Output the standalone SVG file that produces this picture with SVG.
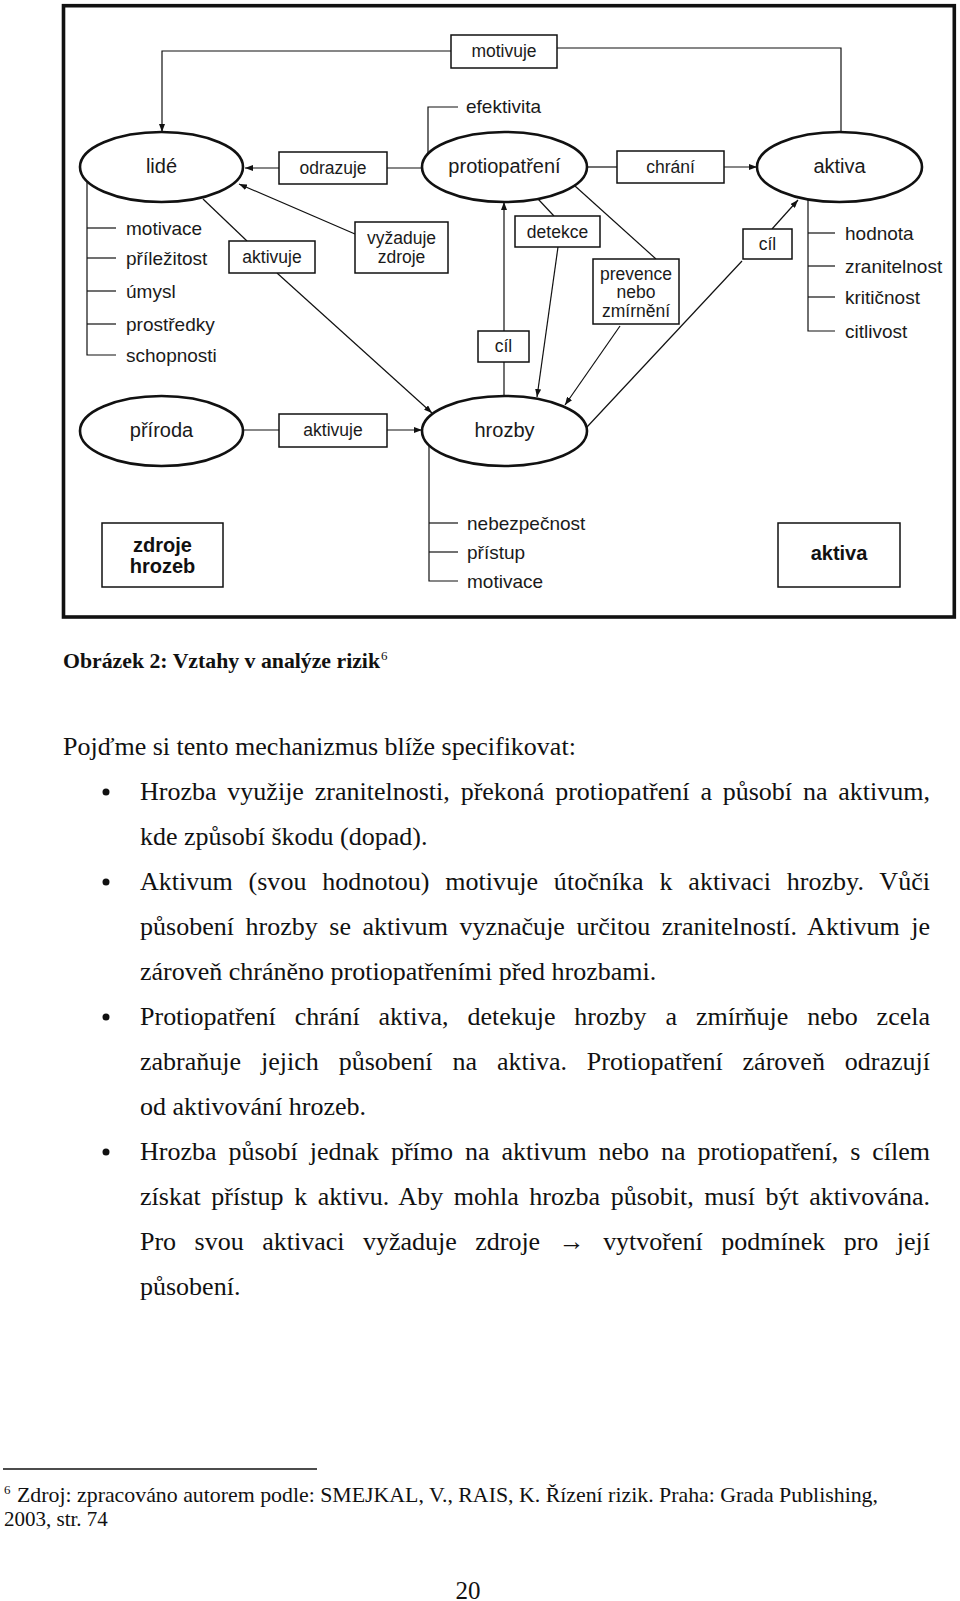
<svg xmlns="http://www.w3.org/2000/svg" width="960" height="1601" viewBox="0 0 960 1601">
<defs>
<marker id="ah" markerUnits="userSpaceOnUse" markerWidth="8" markerHeight="6" refX="8" refY="3" orient="auto">
<path d="M0,0 L8,3 L0,6 z" fill="#111"/>
</marker>
<style>
.ell{fill:#fff;stroke:#111;stroke-width:2.6}
.box{fill:#fff;stroke:#111;stroke-width:1.5}
.ln{fill:none;stroke:#111;stroke-width:1.2}
.lnA{fill:none;stroke:#111;stroke-width:1.2;marker-end:url(#ah)}
.lbl{font-family:"Liberation Sans",Arial,sans-serif;font-size:17.5px;fill:#1a1a1a;text-anchor:middle}
.el{font-family:"Liberation Sans",Arial,sans-serif;font-size:20px;fill:#1a1a1a;text-anchor:middle}
.lst{font-family:"Liberation Sans",Arial,sans-serif;font-size:19px;fill:#1a1a1a}
.bld{font-family:"Liberation Sans",Arial,sans-serif;font-size:20px;font-weight:bold;fill:#111;text-anchor:middle}
.body{font-family:"Liberation Serif","Times New Roman",serif;font-size:26px;fill:#111}
.cap{font-family:"Liberation Serif","Times New Roman",serif;font-size:21.5px;font-weight:bold;fill:#111}
.fn{font-family:"Liberation Serif","Times New Roman",serif;font-size:21px;fill:#111}
</style>
</defs>
<rect width="960" height="1601" fill="#fff"/>
<rect x="63.5" y="5.7" width="890.8" height="611.3" fill="none" stroke="#111" stroke-width="3.6"/>

<g id="connectors">
<polyline class="lnA" points="451,51 162,51 162,132"/>
<polyline class="ln" points="841,133 841,48 557,48"/>
<line class="lnA" x1="279" y1="168" x2="245" y2="168"/>
<line class="ln" x1="387" y1="168" x2="422" y2="168"/>
<polyline class="ln" points="458,107 428,107 428,154"/>
<line class="ln" x1="587" y1="167" x2="617" y2="167"/>
<line class="lnA" x1="724" y1="167" x2="757" y2="167"/>
<polyline class="ln" points="808,199 808,331 835,331"/>
<line class="ln" x1="808" y1="233" x2="835" y2="233"/>
<line class="ln" x1="808" y1="266" x2="835" y2="266"/>
<line class="ln" x1="808" y1="297" x2="835" y2="297"/>
<line class="ln" x1="587" y1="427" x2="742" y2="261"/>
<line class="lnA" x1="772" y1="229" x2="798" y2="200"/>
<line class="ln" x1="538" y1="199" x2="554" y2="216"/>
<line class="lnA" x1="558" y1="247" x2="537" y2="397"/>
<line class="ln" x1="575" y1="186" x2="656" y2="259"/>
<line class="lnA" x1="620" y1="326" x2="565" y2="405"/>
<line class="ln" x1="504" y1="396" x2="504" y2="362"/>
<line class="lnA" x1="504" y1="331" x2="504" y2="202"/>
<line class="lnA" x1="355" y1="234" x2="239" y2="184"/>
<line class="ln" x1="203" y1="199" x2="247" y2="241"/>
<line class="lnA" x1="277" y1="273" x2="432" y2="413"/>
<polyline class="ln" points="87,181 87,355 116,355"/>
<line class="ln" x1="87" y1="228" x2="116" y2="228"/>
<line class="ln" x1="87" y1="258" x2="116" y2="258"/>
<line class="ln" x1="87" y1="291" x2="116" y2="291"/>
<line class="ln" x1="87" y1="324" x2="116" y2="324"/>
<line class="ln" x1="243" y1="430" x2="279" y2="430"/>
<line class="lnA" x1="387" y1="430" x2="422" y2="430"/>
<polyline class="ln" points="429,445 429,581 458,581"/>
<line class="ln" x1="429" y1="523" x2="458" y2="523"/>
<line class="ln" x1="429" y1="552" x2="458" y2="552"/>
</g>

<g id="lide"><ellipse class="ell" cx="161.5" cy="167" rx="81.5" ry="35"/><text class="el" x="161.5" y="173">lidé</text></g>
<g id="protiopatreni"><ellipse class="ell" cx="504.5" cy="167" rx="82.5" ry="35"/><text class="el" x="504.5" y="173">protiopatření</text></g>
<g id="aktiva"><ellipse class="ell" cx="839.5" cy="167" rx="82.5" ry="35"/><text class="el" x="839.5" y="173">aktiva</text></g>
<g id="priroda"><ellipse class="ell" cx="161.5" cy="431" rx="81.5" ry="35"/><text class="el" x="161.5" y="437">příroda</text></g>
<g id="hrozby"><ellipse class="ell" cx="504.5" cy="431" rx="82.5" ry="35"/><text class="el" x="504.5" y="437">hrozby</text></g>

<g id="motivuje"><rect class="box" x="451" y="35" width="106" height="33"/><text class="lbl" x="504" y="57">motivuje</text></g>
<g id="efektivita"><text class="lst" x="466" y="113">efektivita</text></g>
<g id="odrazuje"><rect class="box" x="279" y="152" width="108" height="32"/><text class="lbl" x="333" y="174">odrazuje</text></g>
<g id="chrani"><rect class="box" x="617" y="151" width="107" height="32"/><text class="lbl" x="670.5" y="173">chrání</text></g>
<g id="vyzaduje"><rect class="box" x="355" y="222" width="93" height="51"/><text class="lbl" x="401.5" y="244">vyžaduje</text><text class="lbl" x="401.5" y="263">zdroje</text></g>
<g id="aktivuje1"><rect class="box" x="229" y="241" width="86" height="32"/><text class="lbl" x="272" y="263">aktivuje</text></g>
<g id="detekce"><rect class="box" x="515" y="216" width="85" height="31"/><text class="lbl" x="557.5" y="238">detekce</text></g>
<g id="prevence"><rect class="box" x="593" y="259" width="86" height="65"/><text class="lbl" x="636" y="280">prevence</text><text class="lbl" x="636" y="298">nebo</text><text class="lbl" x="636" y="317">zmírnění</text></g>
<g id="cil1"><rect class="box" x="743" y="229" width="49" height="30"/><text class="lbl" x="767.5" y="250">cíl</text></g>
<g id="cil2"><rect class="box" x="478" y="331" width="51" height="31"/><text class="lbl" x="503.5" y="352">cíl</text></g>
<g id="aktivuje2"><rect class="box" x="279" y="414" width="108" height="33"/><text class="lbl" x="333" y="436">aktivuje</text></g>
<g id="zdroje-hrozeb"><rect class="box" x="102" y="523" width="121" height="64"/><text class="bld" x="162.5" y="552">zdroje</text><text class="bld" x="162.5" y="573">hrozeb</text></g>
<g id="aktiva-legend"><rect class="box" x="778" y="523" width="122" height="64"/><text class="bld" x="839" y="560">aktiva</text></g>

<g id="lide-attrs">
<text class="lst" x="126" y="235">motivace</text>
<text class="lst" x="126" y="265">příležitost</text>
<text class="lst" x="126" y="298">úmysl</text>
<text class="lst" x="126" y="331">prostředky</text>
<text class="lst" x="126" y="362">schopnosti</text>
</g>
<g id="aktiva-attrs">
<text class="lst" x="845" y="240">hodnota</text>
<text class="lst" x="845" y="273">zranitelnost</text>
<text class="lst" x="845" y="304">kritičnost</text>
<text class="lst" x="845" y="338">citlivost</text>
</g>
<g id="hrozby-attrs">
<text class="lst" x="467" y="530">nebezpečnost</text>
<text class="lst" x="467" y="559">přístup</text>
<text class="lst" x="467" y="588">motivace</text>
</g>

<g id="caption">
<text class="cap" x="63" y="668" textLength="317" lengthAdjust="spacingAndGlyphs">Obrázek 2: Vztahy v analýze rizik</text>
<text class="cap" x="381" y="660" style="font-size:13px;font-weight:normal">6</text>
</g>

<g id="body">
<text class="body" x="63" y="755">Pojďme si tento mechanizmus blíže specifikovat:</text>
<circle cx="106" cy="792" r="3.5" fill="#111"/>
<circle cx="106" cy="882" r="3.5" fill="#111"/>
<circle cx="106" cy="1017" r="3.5" fill="#111"/>
<circle cx="106" cy="1152" r="3.5" fill="#111"/>
<text class="body" x="140" y="800" word-spacing="4.3" textLength="790" lengthAdjust="spacing">Hrozba využije zranitelnosti, překoná protiopatření a působí na aktivum,</text>
<text class="body" x="140" y="845">kde způsobí škodu (dopad).</text>
<text class="body" x="140" y="890" word-spacing="9.3" textLength="790" lengthAdjust="spacing">Aktivum (svou hodnotou) motivuje útočníka k aktivaci hrozby. Vůči</text>
<text class="body" x="140" y="935" word-spacing="5" textLength="790" lengthAdjust="spacing">působení hrozby se aktivum vyznačuje určitou zranitelností. Aktivum je</text>
<text class="body" x="140" y="980">zároveň chráněno protiopatřeními před hrozbami.</text>
<text class="body" x="140" y="1025" word-spacing="12.4" textLength="790" lengthAdjust="spacing">Protiopatření chrání aktiva, detekuje hrozby a zmírňuje nebo zcela</text>
<text class="body" x="140" y="1070" word-spacing="13.4" textLength="790" lengthAdjust="spacing">zabraňuje jejich působení na aktiva. Protiopatření zároveň odrazují</text>
<text class="body" x="140" y="1115">od aktivování hrozeb.</text>
<text class="body" x="140" y="1160" word-spacing="5.4" textLength="790" lengthAdjust="spacing">Hrozba působí jednak přímo na aktivum nebo na protiopatření, s cílem</text>
<text class="body" x="140" y="1205" word-spacing="4" textLength="790" lengthAdjust="spacing">získat přístup k aktivu. Aby mohla hrozba působit, musí být aktivována.</text>
<text class="body" x="140" y="1250" word-spacing="12" textLength="790" lengthAdjust="spacing">Pro svou aktivaci vyžaduje zdroje → vytvoření podmínek pro její</text>
<text class="body" x="140" y="1295">působení.</text>
</g>

<g id="footnote">
<line x1="3" y1="1469" x2="317" y2="1469" stroke="#111" stroke-width="1.5"/>
<text class="fn" x="4" y="1494" style="font-size:13px">6</text>
<text class="fn" x="17" y="1502" textLength="861" lengthAdjust="spacingAndGlyphs">Zdroj: zpracováno autorem podle: SMEJKAL, V., RAIS, K. Řízení rizik. Praha: Grada Publishing,</text>
<text class="fn" x="4" y="1526">2003, str. 74</text>
<text class="fn" x="468" y="1599" style="font-size:25px;text-anchor:middle">20</text>
</g>
</svg>
